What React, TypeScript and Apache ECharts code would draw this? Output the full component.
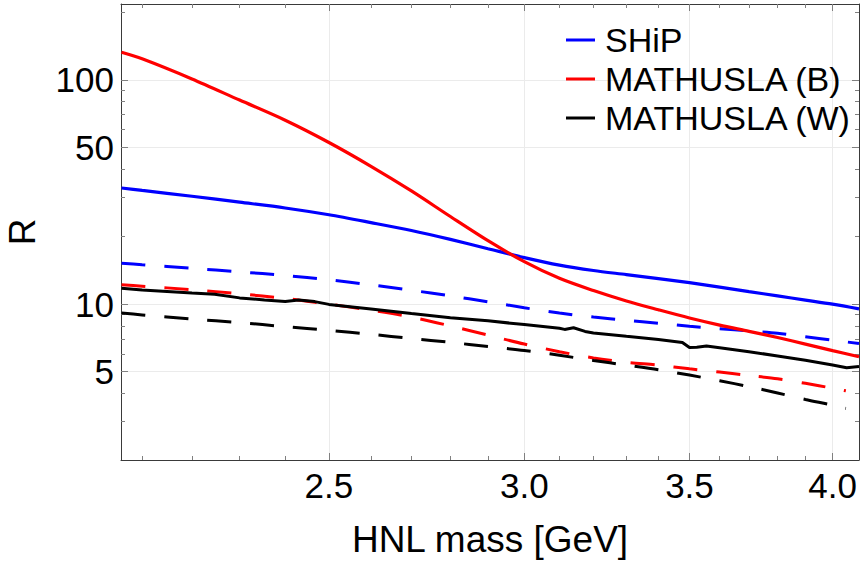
import React, { useEffect, useRef } from "react";
import * as echarts from "echarts";

// HNL mass grid [GeV]
const massGrid = [2.06, 2.1, 2.2, 2.3, 2.4, 2.5, 2.6, 2.7, 2.8, 2.9, 3.0, 3.1, 3.2, 3.3, 3.4, 3.5, 3.6, 3.7, 3.8, 3.9, 4.0, 4.1];
const massDashed = [2.06, 2.1, 2.2, 2.3, 2.4, 2.5, 2.6, 2.7, 2.8, 2.9, 3.0, 3.1, 3.2, 3.3, 3.4, 3.5, 3.6, 3.7, 3.8, 3.9, 4.0, 4.05];
const massW = [2.06, 2.1, 2.2, 2.247, 2.3, 2.354, 2.4, 2.43, 2.467, 2.5, 2.6, 2.7, 2.8, 2.9, 3.0, 3.1, 3.115, 3.141, 3.175, 3.2, 3.3, 3.4, 3.477, 3.5, 3.524, 3.556, 3.6, 3.7, 3.8, 3.9, 4.0, 4.053, 4.1];

// R values
const shipSolid = [32.96, 32.15, 30.3, 28.5, 26.85, 25.04, 23.11, 21.31, 19.45, 17.68, 16.13, 14.93, 14.13, 13.55, 13.0, 12.47, 11.91, 11.38, 10.89, 10.43, 10.0, 9.53];
const shipDashed = [15.24, 14.99, 14.46, 13.94, 13.43, 12.85, 12.2, 11.54, 10.89, 10.25, 9.64, 9.13, 8.76, 8.48, 8.22, 7.97, 7.78, 7.6, 7.43, 7.16, 6.91, 6.68];
const mathBSolid = [132.8, 124.2, 101, 81.3, 66.1, 52.6, 41.2, 32.0, 24.6, 19.2, 15.48, 13.04, 11.5, 10.33, 9.44, 8.68, 8.07, 7.57, 7.1, 6.64, 6.21, 5.83];
const mathBDashed = [12.2, 12.03, 11.61, 11.13, 10.61, 10.0, 9.4, 8.76, 8.0, 7.28, 6.64, 6.14, 5.76, 5.51, 5.35, 5.15, 4.98, 4.81, 4.65, 4.44, 4.22, 4.11];
const mathWSolid = [11.79, 11.58, 11.21, 11.08, 10.67, 10.45, 10.29, 10.45, 10.27, 9.98, 9.53, 9.08, 8.7, 8.43, 8.11, 7.81, 7.72, 7.85, 7.56, 7.44, 7.19, 6.96, 6.75, 6.41, 6.43, 6.51, 6.4, 6.14, 5.88, 5.62, 5.36, 5.21, 5.27];
const mathWDashed = [9.13, 8.96, 8.58, 8.28, 7.94, 7.64, 7.34, 7.03, 6.76, 6.47, 6.22, 5.92, 5.61, 5.35, 5.1, 4.83, 4.56, 4.29, 4.02, 3.76, 3.55, 3.43];

// axes
const xRange = [2.059, 4.1];
const yRange = [2.02, 218];
const xMajorTicks = [2.5, 3.0, 3.5, 4.0];
const xMinorTicks = [2.1, 2.2, 2.3, 2.4, 2.6, 2.7, 2.8, 2.9, 3.1, 3.2, 3.3, 3.4, 3.6, 3.7, 3.8, 3.9];
const yMajorTicks = [5, 10, 50, 100];
const yMinorTicks = [3, 4, 6, 7, 8, 9, 20, 30, 40, 60, 70, 80, 90, 200];
const legendNames = ["SHiP", "MATHUSLA (B)", "MATHUSLA (W)"];

const lg = Math.log10;
const pairs = (xs: number[], ys: number[]) => xs.map((x, i) => [lg(x), lg(ys[i])]);

const FONT = "Liberation Sans, Arial, sans-serif";
const frameLine = { color: "#3a3a3a", width: 1 };
const tickLine = { color: "#808080", width: 1 };

function xAxisDef(position: string, ticks: number[], major: boolean, withLabels: boolean) {
  return {
    type: "value",
    min: lg(xRange[0]),
    max: lg(xRange[1]),
    position,
    axisLine: { show: major, onZero: false, lineStyle: frameLine },
    axisTick: { show: true, inside: true, length: major ? 7 : 4, customValues: ticks.map(lg), lineStyle: tickLine },
    axisLabel: withLabels
      ? {
          show: true,
          customValues: ticks.map(lg),
          formatter: (v: number) => Math.pow(10, v).toFixed(1),
          fontSize: 35,
          fontFamily: FONT,
          color: "#000",
          margin: 8,
        }
      : { show: false },
    splitLine: withLabels ? { show: true, lineStyle: { color: "#ebebeb", width: 1 } } : { show: false },
    ...(withLabels
      ? {
          name: "HNL mass [GeV]",
          nameLocation: "middle",
          nameGap: 61,
          nameTextStyle: { fontSize: 37, fontFamily: FONT, color: "#000" },
        }
      : {}),
  };
}

function yAxisDef(position: string, ticks: number[], major: boolean, withLabels: boolean) {
  return {
    type: "value",
    min: lg(yRange[0]),
    max: lg(yRange[1]),
    position,
    axisLine: { show: major, onZero: false, lineStyle: frameLine },
    axisTick: { show: true, inside: true, length: major ? 7 : 4, customValues: ticks.map(lg), lineStyle: tickLine },
    axisLabel: withLabels
      ? {
          show: true,
          customValues: ticks.map(lg),
          formatter: (v: number) => String(Math.round(Math.pow(10, v))),
          fontSize: 35,
          fontFamily: FONT,
          color: "#000",
          margin: 7,
        }
      : { show: false },
    splitLine: withLabels ? { show: true, lineStyle: { color: "#ebebeb", width: 1 } } : { show: false },
    ...(withLabels
      ? {
          name: "R",
          nameLocation: "middle",
          nameRotate: 90,
          nameGap: 80,
          nameTextStyle: { fontSize: 37, fontFamily: FONT, color: "#000" },
        }
      : {}),
  };
}

function lineSeries(name: string, xs: number[], ys: number[], color: string, dashed: boolean, width: number, smooth: number | boolean) {
  return {
    type: "line",
    name,
    data: pairs(xs, ys),
    showSymbol: false,
    symbol: "none",
    smooth,
    clip: true,
    lineStyle: { color, width, type: dashed ? [24, 19] : "solid", cap: "butt" },
    itemStyle: { color },
    z: dashed ? 2 : 3,
  };
}

export default function App() {
  const ref = useRef<HTMLDivElement>(null);
  useEffect(() => {
    if (!ref.current) return;
    const chart = echarts.init(ref.current, null, { renderer: "svg" });
    chart.setOption({
      animation: false,
      backgroundColor: "#ffffff",
      textStyle: { fontFamily: FONT },
      grid: { left: 121, right: 6, top: 4, bottom: 105, containLabel: false, outerBoundsMode: "none" },
      legend: {
        data: legendNames,
        orient: "vertical",
        left: 566,
        top: 23,
        padding: 0,
        itemWidth: 29,
        itemHeight: 3,
        itemGap: 5,
        icon: "rect",
        textStyle: { fontSize: 34, fontFamily: FONT, color: "#000", lineHeight: 34, padding: [0, 0, 0, 5] },
      },
      xAxis: [
        xAxisDef("bottom", xMajorTicks, true, true),
        xAxisDef("bottom", xMinorTicks, false, false),
        xAxisDef("top", xMajorTicks, true, false),
        xAxisDef("top", xMinorTicks, false, false),
      ],
      yAxis: [
        yAxisDef("left", yMajorTicks, true, true),
        yAxisDef("left", yMinorTicks, false, false),
        yAxisDef("right", yMajorTicks, true, false),
        yAxisDef("right", yMinorTicks, false, false),
      ],
      series: [
        lineSeries("SHiP (dashed)", massGrid, shipDashed, "#0000ff", true, 3, 0.3),
        lineSeries("MATHUSLA (B) (dashed)", massDashed, mathBDashed, "#ff0000", true, 3, 0.3),
        lineSeries("MATHUSLA (W) (dashed)", massDashed, mathWDashed, "#000000", true, 3, 0.3),
        lineSeries("SHiP", massGrid, shipSolid, "#0000ff", false, 3.2, 0.3),
        lineSeries("MATHUSLA (B)", massGrid, mathBSolid, "#ff0000", false, 3.2, 0.3),
        lineSeries("MATHUSLA (W)", massW, mathWSolid, "#000000", false, 3, false),
      ],
    });
    return () => chart.dispose();
  }, []);
  return <div ref={ref} style={{ position: "absolute", left: 0, top: 0, width: 865, height: 565 }} />;
}
